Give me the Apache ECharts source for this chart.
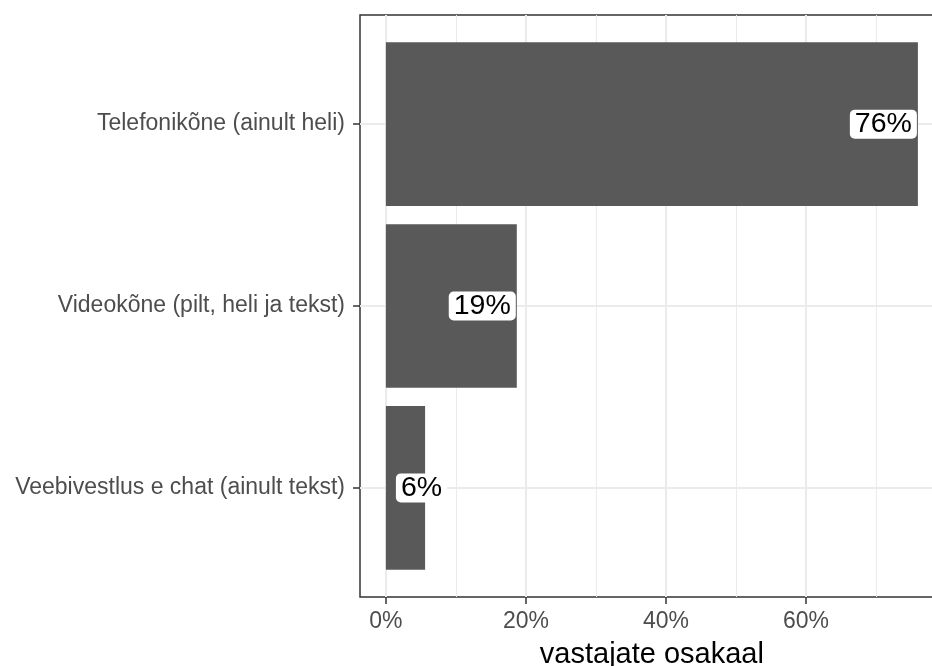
<!DOCTYPE html>
<html>
<head>
<meta charset="utf-8">
<script src="https://cdn.jsdelivr.net/npm/echarts@6/dist/echarts.min.js"></script>
<style>
  html, body { margin: 0; padding: 0; background: #fff; }
  #chart { width: 932px; height: 666px; }
</style>
</head>
<body>
<div id="chart"></div>
<script>
// andmed (loetud pildilt)
var categories = ['Telefonikõne (ainult heli)', 'Videokõne (pilt, heli ja tekst)', 'Veebivestlus e chat (ainult tekst)'];
var shares = [76.0, 18.7, 5.6];
var xTicks = [0, 20, 40, 60];
var xMinorTicks = [10, 30, 50, 70];
var xMin = -3.7;
var xMax = 79.7;

var font = 'Liberation Sans, Arial, sans-serif';

// paneeli mõõdud (ggplot: diskreetne telg laieneb 0.6 ühikut)
var panelLeft = 360, panelTop = 15, panelHeight = 582;
var panelWidth = (xMax - xMin) * 7;
var unit = panelHeight / (categories.length - 1 + 1.2);

var myChart = echarts.init(document.getElementById('chart'));

var barData = shares.map(function (v) {
    var item = { value: v };
    // lühike tulp: silt tulba algusesse
    if (v < 10) {
        item.label = { position: 'insideLeft', distance: 10 };
    }
    return item;
});

var option = {
    animation: false,
    grid: [{
        left: panelLeft, top: panelTop, width: panelWidth, height: panelHeight,
        outerBoundsMode: 'none',
        show: true, backgroundColor: '#fff', borderColor: '#333', borderWidth: 1.5
    }, {
        left: panelLeft, top: panelTop + unit * 0.1, width: panelWidth, height: unit * categories.length,
        outerBoundsMode: 'none'
    }],
    xAxis: [{
        gridIndex: 0, type: 'value', min: xMin, max: xMax, position: 'bottom',
        axisLine: { show: false, onZero: false },
        axisTick: { show: true, customValues: xTicks, length: 7, lineStyle: { color: '#333', width: 1.5 } },
        axisLabel: {
            customValues: xTicks, margin: 13, fontSize: 23, color: '#4d4d4d', fontFamily: font,
            formatter: function (v) { return v + '%'; }
        },
        splitLine: { show: true, lineStyle: { color: '#ebebeb', width: 2 } },
        name: 'vastajate osakaal', nameLocation: 'middle', nameGap: 43,
        nameTextStyle: { fontSize: 29, color: '#000', fontFamily: font }
    }, {
        gridIndex: 0, type: 'value', min: xMin, max: xMax,
        axisLine: { show: false, onZero: false },
        axisTick: { show: false, customValues: xMinorTicks },
        axisLabel: { show: false, customValues: xMinorTicks },
        splitLine: { show: true, lineStyle: { color: '#ebebeb', width: 1 } }
    }, {
        gridIndex: 1, type: 'value', min: xMin, max: xMax, show: false,
        axisLine: { onZero: false }
    }],
    yAxis: [{
        gridIndex: 0, type: 'value', show: false,
        axisLine: { onZero: false }
    }, {
        gridIndex: 1, type: 'category', data: categories, inverse: true, position: 'left',
        axisLine: { show: false, onZero: false },
        axisTick: { show: true, alignWithLabel: true, length: 7, lineStyle: { color: '#333', width: 1.5 } },
        axisLabel: { margin: 15, fontSize: 23, color: '#4d4d4d', fontFamily: font },
        splitLine: { show: true, alignWithLabel: true, lineStyle: { color: '#ebebeb', width: 2 } }
    }],
    series: [{
        type: 'bar',
        xAxisIndex: 2,
        yAxisIndex: 1,
        data: barData,
        barWidth: '90%',
        itemStyle: { color: '#595959' },
        label: {
            show: true,
            position: 'insideRight',
            distance: 1,
            formatter: function (p) { return Math.round(p.value) + '%'; },
            color: '#000',
            fontSize: 28.5,
            fontFamily: font,
            backgroundColor: '#fff',
            borderRadius: 5,
            padding: [2, 5],
            lineHeight: 25
        }
    }]
};

myChart.setOption(option);
</script>
</body>
</html>
